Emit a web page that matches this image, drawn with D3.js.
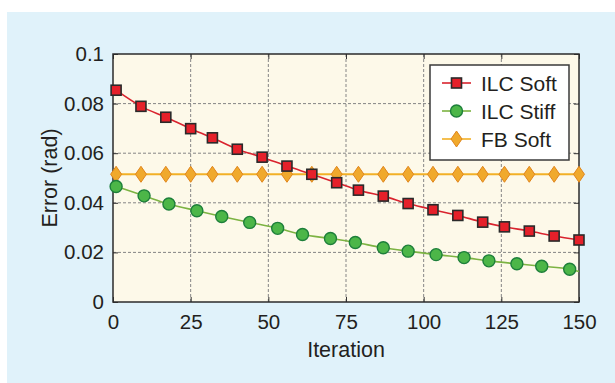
<!DOCTYPE html>
<html><head><meta charset="utf-8">
<script src="https://cdn.jsdelivr.net/npm/d3@7"></script>
<style>
html,body{margin:0;padding:0;background:#fff;}
svg{display:block;font-family:"Liberation Sans",Arial,Helvetica,sans-serif;}
</style></head>
<body>
<script>
// ---- data ----
const xTicks = [0, 25, 50, 75, 100, 125, 150];
const yTicks = [0, 0.02, 0.04, 0.06, 0.08, 0.1];
const yTickLabels = ["0", "0.02", "0.04", "0.06", "0.08", "0.1"];

const softIter = [1, 9, 17, 25, 32, 40, 48, 56, 64, 72, 79, 87, 95, 103, 111, 119, 126, 134, 142, 150];
const softErr  = [0.0854, 0.0789, 0.0745, 0.0699, 0.0662, 0.0616, 0.0584, 0.0548, 0.0515, 0.0481,
                  0.0451, 0.0427, 0.0397, 0.0372, 0.0349, 0.0322, 0.0303, 0.0286, 0.0266, 0.0250];

const stiffIter = [1, 10, 18, 27, 35, 44, 53, 61, 70, 78, 87, 95, 104, 113, 121, 130, 138, 147, 150];
const stiffErr  = [0.0466, 0.0428, 0.0395, 0.0368, 0.0345, 0.0321, 0.0297, 0.0272, 0.0256, 0.0240,
                   0.0219, 0.0205, 0.0191, 0.0179, 0.0166, 0.0154, 0.0144, 0.0132, 0.0123];
const stiffMarked = 18; // first 18 points carry markers

const fbIter = [1, 9, 17, 25, 32, 40, 48, 56, 64, 72, 79, 87, 95, 103, 111, 119, 126, 134, 142, 150];
const fbErr  = [0.0515, 0.0515, 0.0515, 0.0515, 0.0515, 0.0515, 0.0515, 0.0515, 0.0515, 0.0515,
                0.0515, 0.0515, 0.0515, 0.0515, 0.0515, 0.0515, 0.0515, 0.0515, 0.0515, 0.0515];

const seriesNames = ["ILC Soft", "ILC Stiff", "FB Soft"];

// ---- layout ----
const W = 615, H = 383;
const m = {left: 113, top: 54, right: 579, bottom: 302};

const svg = d3.select("body").append("svg").attr("width", W).attr("height", H);
svg.append("rect").attr("x", 0).attr("y", 0).attr("width", W).attr("height", H).attr("fill", "#ffffff");
svg.append("rect").attr("x", 7).attr("y", 12).attr("width", W - 7).attr("height", H - 12).attr("fill", "#e0f2fa");

const x = d3.scaleLinear().domain([0, 150]).range([m.left, m.right]);
const y = d3.scaleLinear().domain([0, 0.1]).range([m.bottom, m.top]);

// plot background
svg.append("rect").attr("x", m.left).attr("y", m.top)
  .attr("width", m.right - m.left).attr("height", m.bottom - m.top).attr("fill", "#fdf9e9");

// grid
const grid = svg.append("g");
grid.selectAll(".gx").data(xTicks.slice(1, -1)).enter().append("line")
  .attr("x1", d => x(d)).attr("x2", d => x(d)).attr("y1", m.top).attr("y2", m.bottom)
  .attr("stroke", "#858585").attr("stroke-width", 1).attr("stroke-dasharray", "3,2");
grid.selectAll(".gy").data(yTicks.slice(1, -1)).enter().append("line")
  .attr("y1", d => y(d)).attr("y2", d => y(d)).attr("x1", m.left).attr("x2", m.right)
  .attr("stroke", "#858585").attr("stroke-width", 1).attr("stroke-dasharray", "3,2");

// axes (ticks inward)
const tickLen = 5;
const fmtY = d => yTickLabels[yTicks.indexOf(d)];
const bottomAxis = d3.axisBottom(x).tickValues(xTicks).tickSize(-tickLen).tickPadding(12);
const leftAxis = d3.axisLeft(y).tickValues(yTicks).tickFormat(fmtY).tickSize(-tickLen).tickPadding(9);
const topAxis = d3.axisTop(x).tickValues(xTicks).tickSize(-tickLen).tickFormat("");
const rightAxis = d3.axisRight(y).tickValues(yTicks).tickSize(-tickLen).tickFormat("");

function styleAxis(g) {
  g.select(".domain").remove();
  g.selectAll(".tick line").attr("stroke", "#333").attr("stroke-width", 1);
  g.selectAll(".tick text").attr("fill", "#231f20").attr("font-size", "20.5px")
    .attr("font-family", "'Liberation Sans', Arial, sans-serif");
}
svg.append("g").attr("transform", `translate(0,${m.bottom})`).call(bottomAxis).call(styleAxis);
svg.append("g").attr("transform", `translate(${m.left},0)`).call(leftAxis).call(styleAxis);
svg.append("g").attr("transform", `translate(0,${m.top})`).call(topAxis).call(styleAxis);
svg.append("g").attr("transform", `translate(${m.right},0)`).call(rightAxis).call(styleAxis);

// frame
svg.append("rect").attr("x", m.left).attr("y", m.top)
  .attr("width", m.right - m.left).attr("height", m.bottom - m.top)
  .attr("fill", "none").attr("stroke", "#2b2b2b").attr("stroke-width", 1.5);

// axis titles
svg.append("text").attr("x", (m.left + m.right) / 2).attr("y", 357)
  .attr("text-anchor", "middle").attr("font-size", "21.5px").attr("fill", "#231f20").text("Iteration");
svg.append("text").attr("transform", `translate(57,${(m.top + m.bottom) / 2}) rotate(-90)`)
  .attr("text-anchor", "middle").attr("font-size", "21.5px").attr("fill", "#231f20").text("Error (rad)");

// series
const colors = {
  soft:  {line: "#d9232e", fill: "#e5202a", stroke: "#2a2a2a"},
  stiff: {line: "#7cb342", fill: "#4cb648", stroke: "#1d7f3a"},
  fb:    {line: "#f2b026", fill: "#f0a92c", stroke: "#e0851c"}
};
const lineGen = d3.line().x(d => x(d[0])).y(d => y(d[1])).curve(d3.curveMonotoneX);

const softPts = softIter.map((v, i) => [v, softErr[i]]);
const stiffPts = stiffIter.map((v, i) => [v, stiffErr[i]]);
const fbPts = fbIter.map((v, i) => [v, fbErr[i]]);

const plot = svg.append("g");
plot.append("path").datum(fbPts).attr("d", lineGen).attr("fill", "none")
  .attr("stroke", colors.fb.line).attr("stroke-width", 2);
plot.append("path").datum(stiffPts).attr("d", lineGen).attr("fill", "none")
  .attr("stroke", colors.stiff.line).attr("stroke-width", 1.6);
plot.append("path").datum(softPts).attr("d", lineGen).attr("fill", "none")
  .attr("stroke", colors.soft.line).attr("stroke-width", 1.6);

function diamond(g, cx, cy) {
  g.append("path").attr("d", `M${cx},${cy - 8}L${cx + 5.5},${cy}L${cx},${cy + 8}L${cx - 5.5},${cy}Z`)
    .attr("fill", colors.fb.fill).attr("stroke", colors.fb.stroke).attr("stroke-width", 1);
}
function square(g, cx, cy) {
  g.append("rect").attr("x", cx - 5).attr("y", cy - 5).attr("width", 10).attr("height", 10)
    .attr("fill", colors.soft.fill).attr("stroke", colors.soft.stroke).attr("stroke-width", 1.6);
}
function circle(g, cx, cy) {
  g.append("circle").attr("cx", cx).attr("cy", cy).attr("r", 6)
    .attr("fill", colors.stiff.fill).attr("stroke", colors.stiff.stroke).attr("stroke-width", 1.4);
}
fbPts.forEach(p => diamond(plot, x(p[0]), y(p[1])));
stiffPts.slice(0, stiffMarked).forEach(p => circle(plot, x(p[0]), y(p[1])));
softPts.forEach(p => square(plot, x(p[0]), y(p[1])));

// legend
const lg = svg.append("g");
lg.append("rect").attr("x", 430).attr("y", 65).attr("width", 139).attr("height", 95)
  .attr("fill", "#ffffff").attr("stroke", "#3a3a3a").attr("stroke-width", 1.5);
const rows = [
  {name: seriesNames[0], c: colors.soft, m: square},
  {name: seriesNames[1], c: colors.stiff, m: circle},
  {name: seriesNames[2], c: colors.fb, m: diamond}
];
rows.forEach((r, i) => {
  const cy = 83 + i * 28;
  lg.append("line").attr("x1", 442).attr("x2", 471).attr("y1", cy).attr("y2", cy)
    .attr("stroke", r.c.line).attr("stroke-width", 1.6);
  r.m(lg, 456.5, cy);
  lg.append("text").attr("x", 481).attr("y", cy + 7.5).attr("font-size", "21px")
    .attr("fill", "#231f20").text(r.name);
});
</script>
</body></html>
